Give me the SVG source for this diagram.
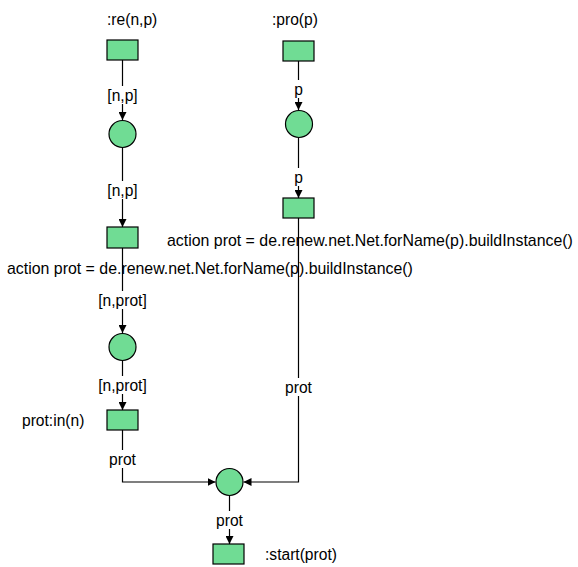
<svg xmlns="http://www.w3.org/2000/svg" width="578" height="567" viewBox="0 0 578 567">
  <defs>
    <style>
      .t { fill: #70dc94; stroke: #000; stroke-width: 1.2; }
      .p { fill: #70dc94; stroke: #000; stroke-width: 1.2; }
      .arc { fill: none; stroke: #000; stroke-width: 1.2; }
      .txt { font-family: "Liberation Sans", Arial, sans-serif; font-size: 15.6px; fill: #000; }
      .act { font-size: 15.9px; }
      .lbl { font-family: "Liberation Sans", Arial, sans-serif; font-size: 15.6px; fill: #000; text-anchor: middle; }
      .bg { fill: #fff; }
    </style>
    <marker id="arrow" viewBox="0 0 10 10" refX="10" refY="5" markerWidth="8" markerHeight="8" markerUnits="userSpaceOnUse" orient="auto">
      <path d="M0,0 L10,5 L0,10 z" fill="#000"/>
    </marker>
  </defs>
  <rect width="578" height="567" fill="#fff"/>

  <!-- connectors -->
  <g id="connectors">
    <line class="arc" x1="122.5" y1="60" x2="122.5" y2="120" marker-end="url(#arrow)"/>
    <line class="arc" x1="122.5" y1="148" x2="122.5" y2="227" marker-end="url(#arrow)"/>
    <line class="arc" x1="122.5" y1="248" x2="122.5" y2="333" marker-end="url(#arrow)"/>
    <line class="arc" x1="122.5" y1="361" x2="122.5" y2="410" marker-end="url(#arrow)"/>
    <polyline class="arc" points="122.5,430 122.5,482 215.5,482" marker-end="url(#arrow)"/>
    <line class="arc" x1="298.5" y1="61" x2="298.5" y2="110" marker-end="url(#arrow)"/>
    <line class="arc" x1="298.5" y1="138" x2="298.5" y2="198" marker-end="url(#arrow)"/>
    <polyline class="arc" points="298.5,218 298.5,482 243.5,482" marker-end="url(#arrow)"/>
    <line class="arc" x1="229.5" y1="495.5" x2="229.5" y2="544" marker-end="url(#arrow)"/>

    <!-- arc inscriptions -->
    <rect class="bg" x="104" y="86" width="37" height="18"/>
    <text class="lbl" x="122.5" y="100.5">[n,p]</text>
    <rect class="bg" x="104" y="181" width="37" height="18"/>
    <text class="lbl" x="122.5" y="195.5">[n,p]</text>
    <rect class="bg" x="93" y="291" width="59" height="18"/>
    <text class="lbl" x="122.5" y="305.5">[n,prot]</text>
    <rect class="bg" x="93" y="376" width="59" height="18"/>
    <text class="lbl" x="122.5" y="390.5">[n,prot]</text>
    <rect class="bg" x="104" y="450" width="37" height="18"/>
    <text class="lbl" x="122.5" y="464.5">prot</text>
    <rect class="bg" x="292" y="80" width="13" height="18"/>
    <text class="lbl" x="298.5" y="94.5">p</text>
    <rect class="bg" x="292" y="168" width="13" height="18"/>
    <text class="lbl" x="298.5" y="182.5">p</text>
    <rect class="bg" x="280" y="378" width="37" height="18"/>
    <text class="lbl" x="298.5" y="392.5">prot</text>
    <rect class="bg" x="211" y="511" width="37" height="18"/>
    <text class="lbl" x="229.5" y="525.5">prot</text>
  </g>

  <!-- left branch -->
  <g id="t_re">
    <rect class="t" x="107" y="40" width="31" height="20"/>
    <text class="txt" x="107" y="25">:re(n,p)</text>
  </g>
  <g id="p_re">
    <circle class="p" cx="122.5" cy="134" r="13.5"/>
  </g>
  <g id="t_build_left">
    <rect class="t" x="107" y="227" width="31" height="21"/>
    <text class="txt act" x="7" y="273.5">action prot = de.renew.net.Net.forName(p).buildInstance()</text>
  </g>
  <g id="p_built">
    <circle class="p" cx="122.5" cy="347" r="13.5"/>
  </g>
  <g id="t_in">
    <rect class="t" x="107" y="410" width="31" height="20"/>
    <text class="txt" x="22" y="425.5">prot:in(n)</text>
  </g>

  <!-- right branch -->
  <g id="t_pro">
    <rect class="t" x="283" y="41" width="31" height="20"/>
    <text class="txt" x="272" y="25">:pro(p)</text>
  </g>
  <g id="p_pro">
    <circle class="p" cx="299" cy="124" r="13.5"/>
  </g>
  <g id="t_build_right">
    <rect class="t" x="283" y="198" width="31" height="20"/>
    <text class="txt act" x="167" y="245.5">action prot = de.renew.net.Net.forName(p).buildInstance()</text>
  </g>

  <!-- join -->
  <g id="p_prot">
    <circle class="p" cx="229.5" cy="482" r="13.5"/>
  </g>
  <g id="t_start">
    <rect class="t" x="213" y="544" width="31" height="20"/>
    <text class="txt" x="265" y="560">:start(prot)</text>
  </g>
</svg>
